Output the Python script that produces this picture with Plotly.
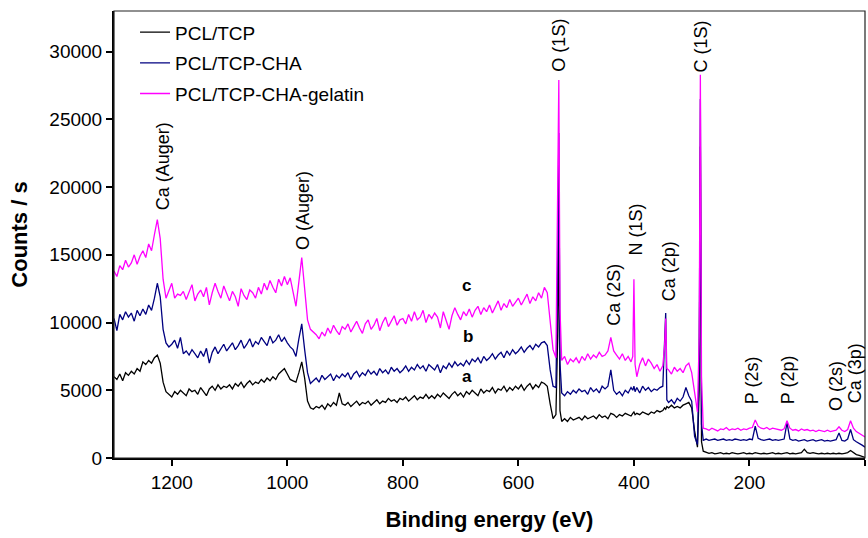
import plotly.graph_objects as go

# Binding energy grid (eV)
energy = (list(range(1300, 550, -5))
          + [550, 545, 540, 535, 532, 530, 528, 525, 520, 515, 510, 505]
          + list(range(500, 400, -5))
          + [402, 400, 398, 395, 390, 385, 380, 375, 370, 365, 360, 355, 350, 347, 345, 343,
             340, 335, 330, 325, 320, 315, 310, 305, 300, 295, 290, 287, 285, 283, 280]
          + list(range(275, -1, -5)))

pcl_tcp = [
    6000, 5800, 6200, 5700, 6300, 6100, 6400, 6200, 6600, 6400,
    7100, 6900, 7200, 7000, 7400, 7600, 7000, 5600, 4900, 4700,
    4500, 4900, 4700, 5000, 4800, 4600, 5100, 4900, 5000, 4700,
    5200, 4900, 4600, 5100, 5300, 5000, 5400, 5100, 5300, 5200,
    5400, 5100, 5500, 5300, 5600, 5200, 5500, 5700, 5400, 5600,
    5500, 5800, 5600, 5900, 5700, 6000, 5800, 6200, 6400, 6600,
    6200, 5800, 5700, 5600, 6300, 7100, 5900, 4200, 3700, 3600,
    3800, 3700, 3900, 3600, 4000, 3800, 4100, 3900, 4800, 4000,
    3900, 4100, 3800, 4000, 4200, 3900, 4100, 4000, 4200, 3900,
    4100, 4300, 4000, 4200, 4100, 4400, 4200, 4300, 4100, 4400,
    4300, 4500, 4200, 4400, 4600, 4300, 4500, 4400, 4700, 4400,
    4600, 4400, 4700, 4500, 4800, 4600, 4400, 4700, 4900, 4600,
    4800, 4500, 4900, 4700, 5000, 4800, 4600, 5100, 4800, 5000,
    4900, 5200, 4800, 5100, 5000, 5300, 4900, 5200, 5000, 5300,
    5100, 5400, 5000, 5300, 5500, 5100, 5400, 5200, 5600, 5500,
    5300, 4000, 2900, 3200, 9000, 17000, 3500, 2700, 2900, 2700, 3000, 2800,
    2900, 3000, 2800, 3100, 2900, 3000, 3100, 2900, 3200, 3000,
    3100, 2900, 3300, 3200, 3000, 3200, 3100, 3300, 3200, 3100,
    3300, 3400, 3200, 3300, 3200, 3400, 3300, 3200, 3400, 3300, 3500, 3400, 3500, 3700, 3600, 3800,
    3700, 3900, 3700, 3800, 3700, 3900, 4000, 4100, 3700, 2000, 800, 5000, 23000, 1200, 500,
    400, 350, 400, 300, 350, 400, 300, 350, 300, 400,
    350, 300, 350, 400, 300, 350, 300, 400, 350, 300,
    350, 300, 350, 400, 300, 350, 300, 350, 400, 300,
    350, 300, 350, 400, 650, 400, 350, 400, 350, 300,
    350, 300, 350, 300, 350, 300, 350, 300, 350, 400,
    550, 400, 250, 200, 100, 50,
]

pcl_tcp_cha = [
    10300, 9400, 10600, 10200, 10800, 10400, 10700, 10100, 10900, 10500,
    11000, 10600, 11300, 10900, 11800, 12900, 11900, 9500, 8500, 8200,
    8400, 8700, 8100, 8900, 7700, 7900, 7600, 8000, 7700, 7400,
    7900, 7500, 8100, 7000, 7800, 8200, 7700, 8100, 8400, 7900,
    8200, 8500, 8000, 8300, 8700, 8100, 8400, 8800, 8200, 8600,
    8400, 8900, 8600, 8300, 9000, 8500, 8700, 9100, 8600, 8900,
    8500, 8200, 8000, 7500, 8800, 9900, 8000, 6300, 5500, 5700,
    5900, 5600, 6100, 5800, 6000, 6200, 5700, 6100, 5900, 6200,
    6000, 6300, 5800, 6200, 6400, 6000, 6300, 6100, 6500, 6200,
    6400, 6100, 6600, 6300, 6500, 6200, 6700, 6400, 6600, 6300,
    6500, 6800, 6400, 6700, 6500, 6900, 6600, 6800, 6400, 6900,
    6700, 6500, 6900, 6300, 6800, 6600, 7000, 6700, 7100, 6800,
    7000, 6800, 7200, 6900, 7300, 7100, 7400, 7000, 7500, 7200,
    7400, 7700, 7300, 7600, 7800, 7400, 7900, 7600, 8000, 7700,
    7900, 8200, 7800, 8100, 8300, 8000, 8400, 8200, 8500, 8600,
    8300, 6500, 5300, 5200, 14000, 24000, 7000, 4800, 4600, 4900, 4700, 5000,
    4800, 5100, 4900, 5000, 4700, 5200, 4900, 5100, 4800, 5300,
    5100, 5300, 6500, 5000, 4700, 4900, 4600, 5000, 4800, 5200,
    5000, 5300, 4900, 5200, 4800, 5300, 5000, 5200, 4900, 5100, 5000, 5200, 5300, 8000, 10700, 4300,
    4100, 4300, 4000, 4400, 4200, 4500, 5200, 4600, 4200, 1600, 1000, 7000, 26500, 2500, 1300,
    1400, 1300, 1350, 1400, 1300, 1350, 1400, 1300, 1350, 1300,
    1400, 1350, 1300, 1350, 1300, 1400, 1350, 2350, 1450, 1350,
    1300, 1350, 1400, 1300, 1350, 1300, 1350, 1400, 2600, 1400,
    1300, 1350, 1250, 1300, 1350, 1250, 1300, 1350, 1250, 1300,
    1350, 1250, 1300, 1250, 1300, 1350, 1850, 1300, 1250, 1400,
    2100, 1350, 1200, 1100, 950, 800,
]

pcl_tcp_cha_gelatin = [
    13800, 13400, 14200, 13900, 14600, 14100, 14400, 15000, 14300, 14900,
    15300, 14800, 15800, 15300, 16500, 17600, 16200, 13200, 11800, 12300,
    12900, 11800, 12100, 12000, 12300, 11700, 12200, 12800, 11600, 12100,
    12400, 11900, 12600, 11300, 12200, 12900, 12300, 11800, 12700, 12100,
    11600, 12300, 11900, 11200, 12500, 12000, 11700, 12400, 12200, 11800,
    12600, 12100, 12900, 12400, 13100, 12600, 12200, 13200, 12700, 13400,
    12800, 13300, 12100, 11200, 13000, 14800, 12500, 10200, 9500, 9300,
    9100, 8800, 9300, 9000, 9600, 9200, 9800, 9400, 9100, 9700,
    9500, 9900, 9300, 9700, 10100, 9600, 9200, 9900, 10200, 9500,
    9800, 10300, 9400, 10000, 10400, 9700, 10100, 10500, 9800, 10200,
    10300, 9900, 10600, 10100, 10800, 10200, 10400, 10900, 10000, 10600,
    10300, 10700, 10400, 9600, 10800, 10200, 9500, 10500, 11100, 10600,
    10200, 10800, 10500, 11000, 10400, 10900, 11200, 10600, 11100, 10800,
    11300, 10700, 11200, 11600, 10900, 11400, 11100, 11700, 11200, 11500,
    11800, 11300, 11700, 12100, 11400, 11900, 11600, 12200, 11800, 12600,
    12200, 10000, 8000, 7400, 19000, 27900, 11000, 7200, 7500, 6900, 7300, 7100,
    7400, 7000, 7500, 7200, 7700, 7300, 7600, 7400, 7800, 7500,
    7600, 7900, 8900, 7900, 7600, 7300, 7700, 7200, 7500, 7100,
    7500, 13200, 6900, 6000, 6900, 7400, 6800, 7300, 7000, 6600, 6900, 6400, 6800, 8200, 10300, 6600,
    6500, 6200, 6700, 6400, 6600, 6300, 6800, 7000, 6300, 4800, 3400, 9000, 28300, 6000, 2200,
    2150, 2050, 2200, 2100, 2000, 2150, 2100, 2250, 2050, 2150,
    2100, 2200, 2050, 2150, 2100, 2200, 2250, 2800, 2350, 2200,
    2150, 2250, 2100, 2200, 2150, 2100, 2050, 2150, 2750, 2200,
    2050, 2100, 2000, 2150, 2050, 2100, 2000, 2050, 1950, 2050,
    2000, 1950, 2050, 1950, 2000, 2050, 2300, 2050, 1950, 2100,
    2750, 2200, 1950, 1800, 1700, 1550,
]

series_names = ["PCL/TCP", "PCL/TCP-CHA", "PCL/TCP-CHA-gelatin"]
series_colors = ["#000000", "#000080", "#FF00FF"]

assert len(energy) == len(pcl_tcp) == len(pcl_tcp_cha) == len(pcl_tcp_cha_gelatin), (
    len(energy), len(pcl_tcp), len(pcl_tcp_cha), len(pcl_tcp_cha_gelatin))

# Peak labels: (text, energy eV, counts at bottom of label)
peak_labels = ["Ca (Auger)", "O (Auger)", "O (1S)", "C (1S)", "N (1S)", "Ca (2S)",
               "Ca (2p)", "P (2s)", "P (2p)", "O (2s)", "Ca (3p)"]
peak_energy = [1216, 974, 530, 284, 398, 435, 340, 196, 133, 49, 17]
peak_bottom = [18100, 15200, 28400, 28300, 14800, 9600, 11400, 3800, 3800, 3300, 3900]

curve_letters = ["c", "b", "a"]
letter_energy = [689, 687, 689]
letter_counts = [12760, 8940, 5990]

FONT = "Arial, Liberation Sans, sans-serif"

fig = go.Figure()
for name, ys, col in zip(series_names, [pcl_tcp, pcl_tcp_cha, pcl_tcp_cha_gelatin], series_colors):
    fig.add_trace(go.Scatter(x=energy, y=ys, mode="lines", name=name,
                             legendgroup=name, hoverinfo="skip",
                             line=dict(color=col, width=1.3)))

annotations = []
for t, e, c in zip(peak_labels, peak_energy, peak_bottom):
    annotations.append(dict(x=e, y=c, xref="x", yref="y", text=t, showarrow=False,
                            textangle=-90, xanchor="center", yanchor="bottom",
                            font=dict(family=FONT, size=18, color="#000")))
for t, e, c in zip(curve_letters, letter_energy, letter_counts):
    annotations.append(dict(x=e, y=c, xref="x", yref="y", text="<b>%s</b>" % t,
                            showarrow=False, xanchor="center", yanchor="middle",
                            font=dict(family=FONT, size=17, color="#000")))

fig.update_layout(
    width=868, height=538,
    margin=dict(l=114, r=3, t=11, b=80),
    paper_bgcolor="white", plot_bgcolor="white",
    font=dict(family=FONT, size=19, color="#000"),
    showlegend=True,
    legend=dict(x=0.028, y=0.995, xanchor="left", yanchor="top",
                bgcolor="rgba(0,0,0,0)", font=dict(size=19),
                tracegroupgap=3, itemwidth=30),
    annotations=annotations,
    xaxis=dict(range=[1300, 0], tickvals=[1200, 1000, 800, 600, 400, 200, 0],
               showgrid=False, zeroline=False, showline=True, linecolor="#000", linewidth=2,
               ticks="outside", ticklen=6, tickwidth=1.5, tickcolor="#000",
               tickfont=dict(size=19),
               title=dict(text="<b>Binding energy (eV)</b>", font=dict(size=22), standoff=20)),
    yaxis=dict(range=[0, 33000], tickvals=[0, 5000, 10000, 15000, 20000, 25000, 30000],
               tickformat="d",
               showgrid=False, zeroline=False, showline=True, linecolor="#000", linewidth=2,
               ticks="outside", ticklen=6, tickwidth=1.5, tickcolor="#000",
               tickfont=dict(size=19),
               title=dict(text="<b>Counts / s</b>", font=dict(size=22), standoff=16)),
    shapes=[dict(type="rect", xref="paper", yref="paper", x0=0, y0=0, x1=1, y1=1,
                 line=dict(color="#222", width=1.2), fillcolor="rgba(0,0,0,0)", layer="above")],
)

fig.write_html("out.html", config={"displayModeBar": False},
               post_script="document.body.style.margin='0px';document.body.style.overflow='hidden';")
